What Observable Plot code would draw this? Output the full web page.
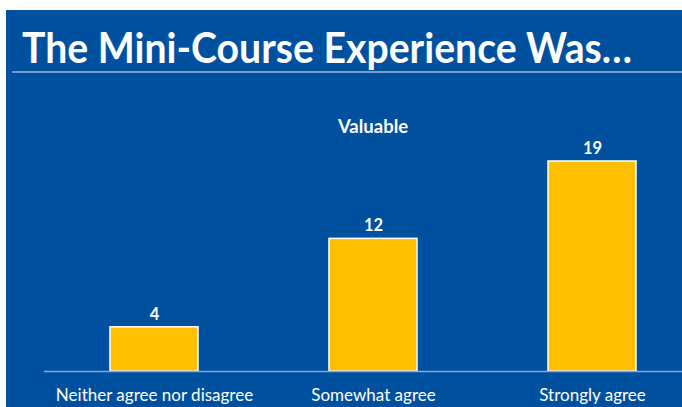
<!DOCTYPE html>
<html>
<head>
<meta charset="utf-8">
<script src="https://cdn.jsdelivr.net/npm/d3@7"></script>
<script src="https://cdn.jsdelivr.net/npm/@observablehq/plot@0.6"></script>
<style>
  html, body { margin: 0; padding: 0; background: #ffffff; overflow: hidden; width: 682px; height: 407px; }
  #slide { position: absolute; left: 6px; top: 10px; width: 676px; height: 397px; background: #0050A0; overflow: hidden; }
  #title { position: absolute; left: 16px; top: 13px; font-family: Lato, sans-serif; font-weight: 700; font-size: 42px; color: #ffffff; white-space: nowrap; transform-origin: 0 0; line-height: 48px; }
  #rule { position: absolute; left: 6px; right: 0; top: 61px; height: 2px; background: #7F9CC8; }
  #chart { position: absolute; left: 0; top: 70px; }
  #chart svg { overflow: hidden; }
</style>
</head>
<body>
<div id="slide">
  <div id="title">The Mini-Course Experience Was…</div>
  <div id="rule"></div>
  <div id="chart"></div>
</div>
<script>
const chartTitle = "Valuable";
const categories = ["Neither agree nor disagree", "Somewhat agree", "Strongly agree"];
const counts = [4, 12, 19];

const data = categories.map((c, i) => ({category: c, count: counts[i]}));

// fit title width to the reference
const t = document.getElementById("title");
const w = t.getBoundingClientRect().width;
t.style.transform = `scaleX(${610 / w})`;

const plot = Plot.plot({
  width: 676,
  height: 327,
  marginLeft: 38,
  marginRight: -19,
  marginTop: 0,
  marginBottom: 36,
  style: {background: "transparent", color: "#ffffff", fontFamily: "Lato, sans-serif", overflow: "hidden"},
  x: {domain: categories, paddingInner: 0.6, paddingOuter: 0.296, axis: null},
  y: {domain: [0, 19], range: [291, 81], axis: null},
  marks: [
    Plot.barY(data, {x: "category", y: "count", fill: "#FFC000", stroke: "#ffffff", strokeWidth: 1.5}),
    Plot.ruleY([0], {stroke: "#8DA6CC", strokeWidth: 1.5}),
    Plot.text(data, {x: "category", y: "count", text: d => String(d.count), dy: -13, fill: "#ffffff", fontWeight: "bold", fontSize: 16.5}),
    Plot.text(data, {x: "category", y: 0, text: "category", dy: 24, fill: "#ffffff", fontSize: 17}),
    Plot.text([chartTitle], {frameAnchor: "top", dy: 39, fill: "#ffffff", fontWeight: "bold", fontSize: 18.5})
  ]
});
document.getElementById("chart").appendChild(plot);
</script>
</body>
</html>
